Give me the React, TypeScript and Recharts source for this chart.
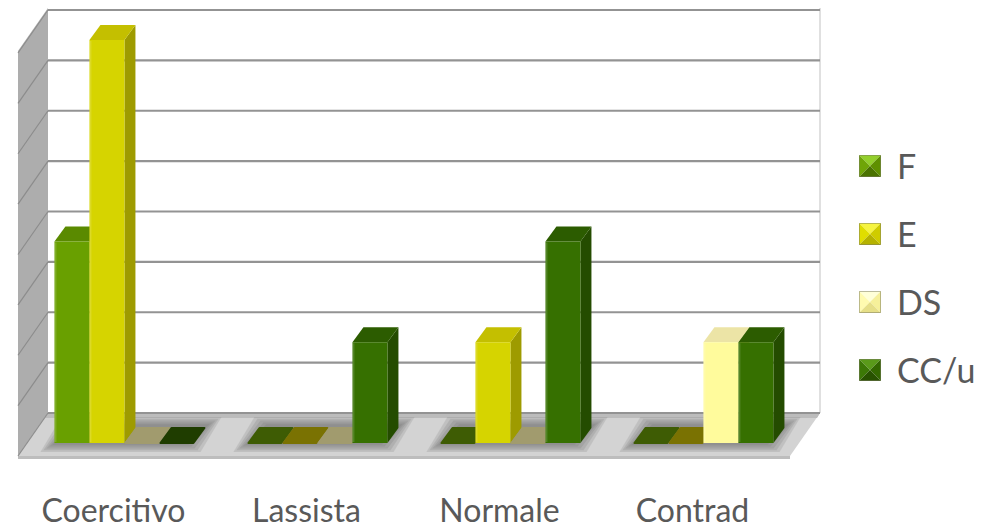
import React from "react";
import {
  BarChart,
  Bar,
  XAxis,
  YAxis,
  CartesianGrid,
  Legend,
} from "recharts";

// valori per categoria
const categories = ["Coercitivo", "Lassista", "Normale", "Contrad"];
const valuesF = [2, 0, 0, 0];
const valuesE = [4, 0, 1, 0];
const valuesDS = [0, 0, 0, 1];
const valuesCCu = [0, 1, 2, 1];
const yTicks = [0, 0.5, 1, 1.5, 2, 2.5, 3, 3.5, 4];
const seriesNames = ["F", "E", "DS", "CC/u"];

const data = categories.map((name, i) => ({
  name,
  F: valuesF[i],
  E: valuesE[i],
  DS: valuesDS[i],
  "CC/u": valuesCCu[i],
}));

// colori delle facce dei parallelepipedi
const palette: Record<string, any> = {
  F: { front: "#69a000", top: "#5a8a00", side: "#4c7600", flat: "#3e5c04", icon: ["#93cf2c", "#6fa508", "#5f9000", "#4a7200"] },
  E: { front: "#d6d400", top: "#c4bf00", side: "#9e9b00", flat: "#7a7202", icon: ["#f6f440", "#e0de00", "#cfcc00", "#b5b200"] },
  DS: { front: "#fffb9c", top: "#ece4a6", side: "#d8d080", flat: "#a19b6e", icon: ["#ffffd8", "#fffbb0", "#f6f09a", "#e6df88"] },
  "CC/u": { front: "#367000", top: "#2c5c00", side: "#244c00", flat: "#1f3d00", icon: ["#5a9a1a", "#3c7806", "#336800", "#285200"] },
};

const W = 992;
const H = 529;
const MARGIN = { top: 40, right: 192, left: 28, bottom: 0 };
const X_AXIS_H = 86;
const PL = MARGIN.left;
const PR = W - MARGIN.right;
const PB = H - X_AXIS_H;
const PT = MARGIN.top;
const BAR_GAP_PCT = 0.137;

// prospettiva: parete di fondo, bordo anteriore del pavimento, profondità barre
const BACK = [20, -30];
const FRONT = [-10, 13];
const DEPTH = [11, -15];

const FONT = "Lato, 'Noto Sans', sans-serif";
const TEXT = "#595959";

// pareti, pavimento e ombre dei gruppi, disegnati sotto al grafico
function Frame() {
  const bl = PL + BACK[0];
  const br = PR + BACK[0];
  const bt = PT + BACK[1] - 2;
  const bb = PB + BACK[1];
  const fl = PL + FRONT[0];
  const fr = PR + FRONT[0];
  const fb = PB + FRONT[1];
  const band = (PR - PL) / categories.length;
  const layers = [0, 3, 6, 9, 12];
  return (
    <svg width={W} height={H} style={{ position: "absolute", left: 0, top: 0 }}>
      <polygon
        points={`${bl},${bt} ${bl},${bb} ${fl},${fb} ${fl},${bt + (fb - bb)}`}
        fill="#adadad"
      />
      <line x1={br} y1={bt} x2={br} y2={bb} stroke="#d6d6d6" strokeWidth={1.5} />
      <polygon
        points={`${bl},${bb} ${br},${bb} ${fr},${fb} ${fl},${fb}`}
        fill="#d3d3d3"
      />
      <polygon
        points={`${bl},${bb} ${br},${bb} ${br - 3},${bb + 5} ${bl - 3},${bb + 5}`}
        fill="#bcbcbc"
      />
      <polygon
        points={`${fl},${fb} ${fr},${fb} ${fr},${fb + 3} ${fl},${fb + 3}`}
        fill="#bdbdbd"
      />
      {categories.map((c, i) => {
        const gx0 = PL + i * band + band * BAR_GAP_PCT;
        const gx1 = PL + (i + 1) * band - band * BAR_GAP_PCT;
        return (
          <g key={c}>
            {layers.map((k) => {
              const x0 = gx0 - 14 + k;
              const x1 = gx1 + 6 - k;
              const yf = PB + 9 - k * 0.6;
              const yb = PB - 26 + k * 0.6;
              return (
                <polygon
                  key={k}
                  points={`${x0},${yf} ${x1},${yf} ${x1 + 21},${yb} ${x0 + 21},${yb}`}
                  fill="#666666"
                  fillOpacity={0.17}
                />
              );
            })}
          </g>
        );
      })}
    </svg>
  );
}

const renderGridLine = (props: any) => {
  const { x1, x2, y1 } = props;
  const yb = y1 + BACK[1];
  return (
    <g key={`grid-${y1}`}>
      <line x1={x1 + BACK[0]} y1={yb} x2={x2 + BACK[0]} y2={yb} stroke="#939393" strokeWidth={2.2} />
      <line
        x1={x1 + BACK[0]}
        y1={yb}
        x2={x1 + FRONT[0]}
        y2={y1 + FRONT[1]}
        stroke="#8c8c8c"
        strokeWidth={1.2}
      />
    </g>
  );
};

const makeShape = (key: string) => (props: any) => {
  const { x, y, width, height } = props;
  const c = palette[key];
  const [dx, dy] = DEPTH;
  const base = y + height;
  if (!height || height < 0.5) {
    return (
      <polygon
        points={`${x + 1},${base} ${x + dx + 1},${base + dy} ${x + width + dx - 1},${base + dy} ${x + width - 1},${base}`}
        fill={c.flat}
        stroke={c.flat}
        strokeWidth={2}
        strokeLinejoin="round"
      />
    );
  }
  return (
    <g>
      <polygon
        points={`${x + width},${y} ${x + width + dx},${y + dy} ${x + width + dx},${base + dy} ${x + width},${base}`}
        fill={c.side}
      />
      <polygon
        points={`${x},${y} ${x + dx},${y + dy} ${x + width + dx},${y + dy} ${x + width},${y}`}
        fill={c.top}
      />
      <rect x={x} y={y} width={width} height={height} fill={c.front} />
      <line x1={x + 1} y1={y + 1} x2={x + 1} y2={base - 1} stroke="#ffffff" strokeOpacity={0.15} strokeWidth={2} />
    </g>
  );
};

const CategoryTick = (props: any) => {
  const { x, y, payload } = props;
  return (
    <text x={x - 11} y={y + 79} textAnchor="middle" fill={TEXT} fontSize={32} fontFamily={FONT}>
      {payload.value}
    </text>
  );
};

const LegendIcon = ({ colors }: { colors: string[] }) => {
  const s = 22;
  const m = s / 2;
  return (
    <svg width={s} height={s} style={{ display: "block" }}>
      <polygon points={`0,0 ${s},0 ${m},${m}`} fill={colors[0]} />
      <polygon points={`0,0 0,${s} ${m},${m}`} fill={colors[1]} />
      <polygon points={`${s},0 ${s},${s} ${m},${m}`} fill={colors[2]} />
      <polygon points={`0,${s} ${s},${s} ${m},${m}`} fill={colors[3]} />
      <rect x={0.5} y={0.5} width={s - 1} height={s - 1} fill="none" stroke="#7a7a60" strokeOpacity={0.5} />
    </svg>
  );
};

const renderLegend = (props: any) => {
  const items = [...(props.payload || [])].sort(
    (a: any, b: any) => seriesNames.indexOf(a.value) - seriesNames.indexOf(b.value)
  );
  return (
    <div style={{ fontFamily: FONT }}>
      {items.map((it: any) => (
        <div key={it.value} style={{ display: "flex", alignItems: "center", height: 68 }}>
          <LegendIcon colors={palette[it.value].icon} />
          <span style={{ marginLeft: 16, fontSize: 34, color: TEXT, lineHeight: 1 }}>{it.value}</span>
        </div>
      ))}
    </div>
  );
};

export default function App() {
  return (
    <div style={{ position: "absolute", left: 0, top: 0, width: W, height: H, background: "#fff" }}>
      <Frame />
      <div style={{ position: "absolute", left: 0, top: 0 }}>
        <BarChart
          width={W}
          height={H}
          data={data}
          margin={MARGIN}
          barCategoryGap={`${BAR_GAP_PCT * 100}%`}
          barGap={0}
        >
          <CartesianGrid horizontal={renderGridLine} vertical={false} />
          <XAxis
            dataKey="name"
            height={X_AXIS_H}
            axisLine={false}
            tickLine={false}
            tickSize={0}
            tickMargin={0}
            tick={<CategoryTick />}
            interval={0}
          />
          <YAxis hide domain={[0, 4]} ticks={yTicks} />
          <Legend
            layout="vertical"
            align="center"
            verticalAlign="middle"
            content={renderLegend}
            wrapperStyle={{ left: 859, top: 132, width: 130 }}
          />
          {seriesNames.map((k) => (
            <Bar
              key={k}
              dataKey={k}
              name={k}
              fill={palette[k].front}
              shape={makeShape(k)}
              isAnimationActive={false}
            />
          ))}
        </BarChart>
      </div>
    </div>
  );
}
